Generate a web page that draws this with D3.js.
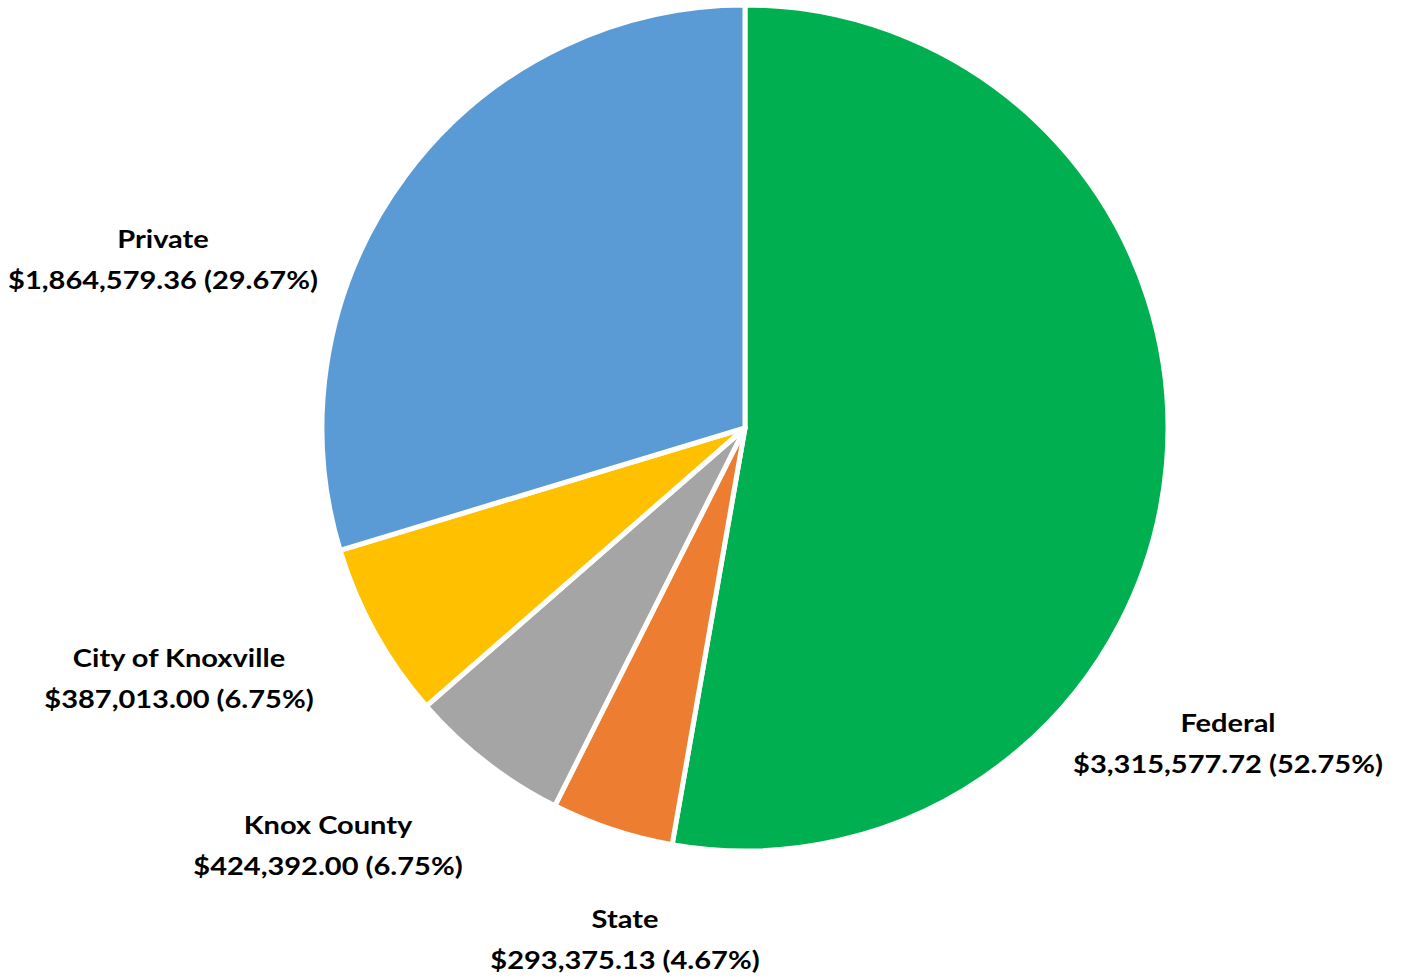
<!DOCTYPE html>
<html><head><meta charset="utf-8">
<script src="https://cdn.jsdelivr.net/npm/d3@7"></script>
<style>html,body{margin:0;padding:0;background:#fff;}</style>
</head><body>
<svg id="chart" width="1403" height="978"></svg>
<script>
// slices in drawing order (clockwise from 12 o'clock)
const categories = ["Federal", "State", "City of Knoxville", "Knox County", "Private"];
const values = [3315577.72, 293375.13, 387013.00, 424392.00, 1864579.36];
const colors = ["#00B050", "#ED7D31", "#A5A5A5", "#FFC000", "#5B9BD5"];
const valueLabels = ["$3,315,577.72 (52.75%)", "$293,375.13 (4.67%)", "$387,013.00 (6.75%)", "$424,392.00 (6.75%)", "$1,864,579.36 (29.67%)"];
const labelPos = [[1228, 732], [625, 928], [179, 667], [328, 834], [163, 248]];

const svg = d3.select("#chart");
const cx = 745, cy = 428, r = 423;
const pie = d3.pie().sort(null).value(d => d.v);
const arcs = pie(categories.map((c, i) => ({c, v: values[i], i})));
const arc = d3.arc().innerRadius(0).outerRadius(r);
const g = svg.append("g").attr("transform", `translate(${cx},${cy})`);
g.selectAll("path").data(arcs).join("path")
  .attr("d", arc)
  .attr("fill", d => colors[d.data.i])
  .attr("stroke", "#fff").attr("stroke-width", 5).attr("stroke-linejoin", "round");

const lab = svg.append("g").attr("font-family", "Lato, 'Open Sans', sans-serif")
  .attr("font-weight", "bold").attr("font-size", 24).attr("fill", "#000").attr("text-anchor", "middle");
categories.forEach((c, i) => {
  const t = lab.append("text")
    .attr("transform", `translate(${labelPos[i][0]},${labelPos[i][1]}) scale(1.21,1)`);
  t.append("tspan").attr("x", 0).attr("y", 0).text(c);
  t.append("tspan").attr("x", 0).attr("y", 41).text(valueLabels[i]);
});
</script>
</body></html>
